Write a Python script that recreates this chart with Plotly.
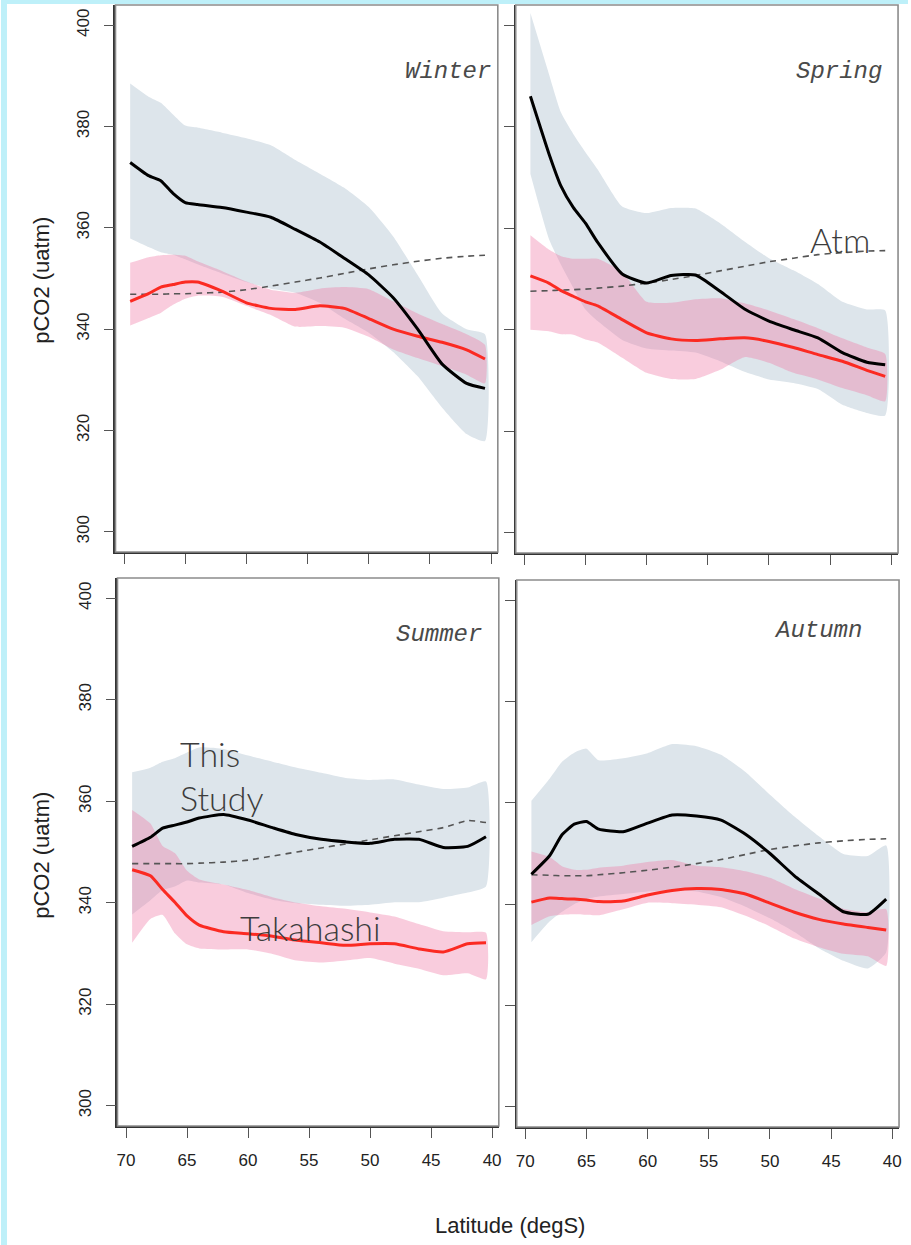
import plotly.graph_objects as go

# ---------------- data ----------------
lat = [69.5, 68, 67, 66, 65, 64, 62, 60, 58, 56, 54, 52, 50, 48, 46, 44, 42, 40.5]
x_ticks = [70, 65, 60, 55, 50, 45, 40]
y_ticks = [300, 320, 340, 360, 380, 400]
seasons = ["Winter", "Spring", "Summer", "Autumn"]

# Winter
w_study = [372.9, 370.3, 369.3, 366.8, 365.0, 364.6, 364.0, 363.1, 362.1, 359.7, 357.2, 354.0, 350.7, 346.2, 340.0, 333.1, 329.3, 328.3]
w_study_hi = [388.5, 385.9, 384.7, 382.4, 380.2, 379.8, 378.8, 377.7, 376.3, 373.4, 370.7, 367.9, 364.1, 358.3, 350.7, 343.1, 340.0, 339.0]
w_study_lo = [357.9, 356.2, 355.2, 354.7, 353.8, 352.8, 351.0, 349.3, 348.0, 347.2, 345.2, 342.1, 339.3, 335.5, 330.7, 324.5, 319.3, 317.9]
w_taka = [345.5, 347.0, 348.3, 348.8, 349.3, 349.3, 347.5, 345.2, 344.1, 343.9, 344.6, 344.1, 342.1, 340.0, 338.6, 337.4, 335.9, 334.1]
w_taka_hi = [353.1, 354.2, 354.6, 354.7, 354.5, 353.4, 351.5, 349.4, 347.8, 347.2, 348.0, 348.3, 347.9, 345.5, 343.1, 341.0, 339.0, 336.9]
w_taka_lo = [340.7, 342.2, 343.2, 344.8, 346.0, 346.6, 346.4, 344.6, 342.8, 340.5, 340.6, 340.3, 338.5, 336.0, 334.3, 332.7, 331.0, 329.3]
w_atm = [346.9, 346.9, 346.9, 347.0, 347.0, 347.1, 347.3, 347.8, 348.5, 349.3, 350.1, 351.0, 351.9, 352.7, 353.4, 354.0, 354.4, 354.6]

# Spring
s_study = [386.0, 374.8, 368.3, 364.1, 361.0, 357.2, 351.0, 349.2, 350.7, 350.8, 347.6, 344.1, 341.7, 340.0, 338.4, 335.5, 333.6, 333.1]
s_study_hi = [402.4, 390.5, 382.8, 378.6, 375.0, 371.6, 364.3, 363.0, 364.0, 363.9, 361.0, 357.4, 354.1, 351.7, 349.0, 345.5, 344.0, 343.8]
s_study_lo = [370.7, 358.0, 352.8, 348.3, 344.0, 341.7, 338.0, 336.3, 335.9, 335.5, 333.8, 331.7, 330.2, 329.5, 328.3, 325.2, 323.6, 323.1]
s_taka = [350.6, 349.2, 347.7, 346.6, 345.5, 344.7, 342.0, 339.4, 338.2, 337.9, 338.2, 338.4, 337.7, 336.5, 335.1, 333.8, 332.0, 330.8]
s_taka_hi = [358.6, 355.8, 354.5, 354.0, 354.0, 354.0, 351.4, 345.5, 345.3, 346.0, 346.2, 345.2, 343.8, 342.1, 340.3, 338.3, 336.5, 335.2]
s_taka_lo = [340.0, 339.7, 339.1, 339.0, 338.1, 337.5, 334.5, 331.5, 330.3, 330.3, 332.1, 334.6, 333.5, 331.5, 330.2, 328.5, 327.1, 325.9]
s_atm = [347.6, 347.7, 347.8, 347.9, 348.0, 348.2, 348.6, 349.2, 349.9, 350.7, 351.6, 352.5, 353.4, 354.1, 354.8, 355.2, 355.5, 355.6]

# Summer
su_study = [351.1, 352.9, 354.7, 355.3, 355.9, 356.7, 357.4, 356.3, 354.8, 353.4, 352.5, 352.0, 351.7, 352.5, 352.5, 350.9, 351.1, 353.0]
su_study_hi = [365.7, 366.6, 367.8, 368.5, 369.6, 370.6, 370.3, 369.0, 367.8, 366.6, 365.6, 364.6, 364.2, 364.3, 363.3, 362.4, 362.7, 363.9]
su_study_lo = [337.7, 340.5, 342.5, 343.2, 344.4, 344.0, 343.6, 341.9, 340.6, 339.9, 339.6, 339.4, 339.6, 340.1, 340.1, 341.0, 342.0, 343.2]
su_taka = [346.5, 345.3, 342.6, 340.1, 337.4, 335.6, 334.3, 333.9, 333.4, 332.6, 332.1, 331.6, 331.9, 331.9, 330.9, 330.3, 331.9, 332.1]
su_taka_hi = [358.3, 355.6, 351.2, 349.8, 346.3, 344.6, 343.6, 342.5, 341.1, 340.0, 339.3, 338.8, 338.1, 337.3, 335.8, 334.4, 334.2, 334.1]
su_taka_lo = [332.1, 336.8, 337.6, 334.0, 331.8, 331.0, 330.8, 330.8, 329.9, 328.6, 328.2, 328.6, 329.1, 328.0, 327.0, 325.7, 326.1, 324.9]
su_atm = [347.7, 347.7, 347.7, 347.7, 347.7, 347.8, 348.0, 348.4, 349.2, 350.0, 350.8, 351.6, 352.4, 353.2, 354.0, 354.8, 356.2, 355.8]

# Autumn
a_study = [345.9, 349.6, 353.7, 355.8, 356.3, 354.8, 354.3, 356.0, 357.6, 357.4, 356.6, 353.8, 350.0, 345.6, 342.0, 338.5, 338.0, 341.0]
a_study_hi = [360.4, 364.8, 368.1, 369.9, 370.7, 368.4, 368.8, 369.8, 371.6, 371.2, 369.5, 366.1, 361.6, 357.3, 353.4, 349.9, 349.5, 351.6]
a_study_lo = [332.5, 336.6, 338.5, 340.0, 341.0, 341.5, 342.0, 342.5, 342.8, 342.5, 341.4, 339.5, 337.2, 334.5, 331.3, 328.8, 327.3, 330.5]
a_taka = [340.4, 341.2, 341.1, 341.0, 340.8, 340.5, 340.6, 341.8, 342.7, 343.1, 342.9, 342.0, 340.2, 338.4, 337.0, 336.1, 335.4, 334.9]
a_taka_hi = [350.4, 349.3, 347.5, 346.8, 346.8, 347.2, 347.6, 348.3, 348.7, 347.6, 347.3, 346.5, 345.2, 343.0, 341.1, 339.1, 338.4, 339.0]
a_taka_lo = [335.9, 337.6, 337.9, 338.0, 337.9, 337.8, 339.0, 340.3, 340.2, 339.9, 339.4, 337.7, 335.6, 333.2, 331.5, 330.2, 329.7, 327.8]
a_atm = [345.8, 345.7, 345.6, 345.6, 345.6, 345.8, 346.2, 346.7, 347.3, 348.0, 348.8, 349.8, 350.8, 351.5, 352.1, 352.5, 352.8, 352.9]

panels = [
    (w_study, w_study_hi, w_study_lo, w_taka, w_taka_hi, w_taka_lo, w_atm),
    (s_study, s_study_hi, s_study_lo, s_taka, s_taka_hi, s_taka_lo, s_atm),
    (su_study, su_study_hi, su_study_lo, su_taka, su_taka_hi, su_taka_lo, su_atm),
    (a_study, a_study_hi, a_study_lo, a_taka, a_taka_hi, a_taka_lo, a_atm),
]

# ---------------- styling / layout ----------------
W, H = 911, 1245
BLUE_FILL = "rgb(221,229,235)"
PINK_FILL = "rgba(238,120,165,0.38)"
RED = "#fb2a22"
BLACK = "#000000"
ATM = "#555555"
SMOOTH = 0.5
TICK_FONT = dict(family="Liberation Sans, Arial, sans-serif", size=17, color="#222")
OVER_FONT = dict(family="Lato, Open Sans, sans-serif", size=34, color="#3c3c3c", weight=300)
SEASON_FONT = dict(family="Courier New, Liberation Mono, monospace", size=24, color="#4a4a4a", style="italic")
TITLE_FONT = dict(family="Liberation Sans, Arial, sans-serif", size=22, color="#222")

def px_x(p):
    return p / W

def px_y(p):
    return 1 - p / H

# panel boxes in pixels: (left, right, top, bottom)
boxes = [(115, 499, 5, 552), (517, 901, 5, 553), (117, 500, 578, 1126), (518, 902, 580, 1127)]

fig = go.Figure()

for i, (st, sth, stl, tk, tkh, tkl, atm) in enumerate(panels):
    n = i + 1
    xa = "x" if n == 1 else f"x{n}"
    ya = "y" if n == 1 else f"y{n}"
    band_x = lat + lat[::-1]
    fig.add_trace(go.Scatter(x=band_x, y=sth + stl[::-1], fill="toself", fillcolor=BLUE_FILL,
                             line=dict(width=0, shape="spline", smoothing=SMOOTH), mode="lines",
                             hoverinfo="skip", showlegend=False, xaxis=xa, yaxis=ya))
    fig.add_trace(go.Scatter(x=band_x, y=tkh + tkl[::-1], fill="toself", fillcolor=PINK_FILL,
                             line=dict(width=0, shape="spline", smoothing=SMOOTH), mode="lines",
                             hoverinfo="skip", showlegend=False, xaxis=xa, yaxis=ya))
    fig.add_trace(go.Scatter(x=lat, y=atm, mode="lines",
                             line=dict(color=ATM, width=1.6, dash="6px,5px", shape="spline", smoothing=SMOOTH),
                             showlegend=False, xaxis=xa, yaxis=ya))
    fig.add_trace(go.Scatter(x=lat, y=tk, mode="lines",
                             line=dict(color=RED, width=3, shape="spline", smoothing=SMOOTH),
                             showlegend=False, xaxis=xa, yaxis=ya))
    fig.add_trace(go.Scatter(x=lat, y=st, mode="lines",
                             line=dict(color=BLACK, width=3, shape="spline", smoothing=SMOOTH),
                             showlegend=False, xaxis=xa, yaxis=ya))

    l, r, t, b = boxes[i]
    bottom_row = n in (3, 4)
    left_col = n in (1, 3)
    xkey = "xaxis" if n == 1 else f"xaxis{n}"
    ykey = "yaxis" if n == 1 else f"yaxis{n}"
    fig.update_layout({
        xkey: dict(domain=[px_x(l), px_x(r)], anchor=ya, range=[70.7, 39.45],
                   tickmode="array", tickvals=x_ticks, ticktext=[str(v) for v in x_ticks],
                   showticklabels=bottom_row, ticks="outside", ticklen=10, tickwidth=1.4,
                   tickcolor="#555", tickfont=TICK_FONT, ticklabelstandoff=8,
                   showgrid=False, zeroline=False, showline=True, linecolor="#333", linewidth=1.6),
        ykey: dict(domain=[px_y(b), px_y(t)], anchor=xa, range=[296, 404],
                   tickmode="array", tickvals=y_ticks, ticktext=[str(v) for v in y_ticks],
                   showticklabels=left_col, tickangle=-90, ticks="outside", ticklen=10, tickwidth=1.4,
                   tickcolor="#555", tickfont=TICK_FONT, ticklabelstandoff=8,
                   showgrid=False, zeroline=False, showline=True, linecolor="#333", linewidth=1.6),
    })
    # panel frame (top / right edges lighter)
    fig.add_shape(type="rect", xref=f"{xa} domain", yref=f"{ya} domain", x0=0, x1=1, y0=0, y1=1,
                  line=dict(color="#8c8c8c", width=1.6), fillcolor="rgba(0,0,0,0)", layer="above")

# season labels
season_pos = [(494, 71), (887, 71), (485, 634), (867, 630)]
for name, (sx, sy) in zip(seasons, season_pos):
    fig.add_annotation(text=name, x=px_x(sx), y=px_y(sy), xref="paper", yref="paper",
                       xanchor="right", yanchor="middle", showarrow=False, font=SEASON_FONT)

# overlay labels
fig.add_annotation(text="Atm", x=px_x(811), y=px_y(240), xref="paper", yref="paper",
                   xanchor="left", yanchor="middle", showarrow=False, font=OVER_FONT)
fig.add_annotation(text="This<br>Study", x=px_x(178), y=px_y(775), xref="paper", yref="paper",
                   xanchor="left", yanchor="middle", align="left", showarrow=False, font=OVER_FONT)
fig.add_annotation(text="Takahashi", x=px_x(238), y=px_y(927), xref="paper", yref="paper",
                   xanchor="left", yanchor="middle", showarrow=False, font=OVER_FONT)

# axis titles
fig.add_annotation(text="pCO2 (uatm)", x=px_x(40), y=px_y(280), xref="paper", yref="paper",
                   xanchor="center", yanchor="middle", textangle=-90, showarrow=False, font=TITLE_FONT)
fig.add_annotation(text="pCO2 (uatm)", x=px_x(40), y=px_y(855), xref="paper", yref="paper",
                   xanchor="center", yanchor="middle", textangle=-90, showarrow=False, font=TITLE_FONT)
fig.add_annotation(text="Latitude (degS)", x=px_x(511), y=px_y(1225), xref="paper", yref="paper",
                   xanchor="center", yanchor="middle", showarrow=False, font=TITLE_FONT)

# light blue page strips (left and top)
STRIP = "#bef0f9"
fig.add_shape(type="rect", xref="paper", yref="paper", x0=0, x1=px_x(6), y0=0, y1=1,
              line=dict(width=0), fillcolor=STRIP, layer="below")
fig.add_shape(type="rect", xref="paper", yref="paper", x0=0, x1=1, y0=px_y(4), y1=1,
              line=dict(width=0), fillcolor=STRIP, layer="below")

fig.update_layout(width=W, height=H, autosize=False, margin=dict(l=0, r=0, t=0, b=0),
                  paper_bgcolor="white", plot_bgcolor="rgba(0,0,0,0)", showlegend=False)

fig.write_html("out.html")
